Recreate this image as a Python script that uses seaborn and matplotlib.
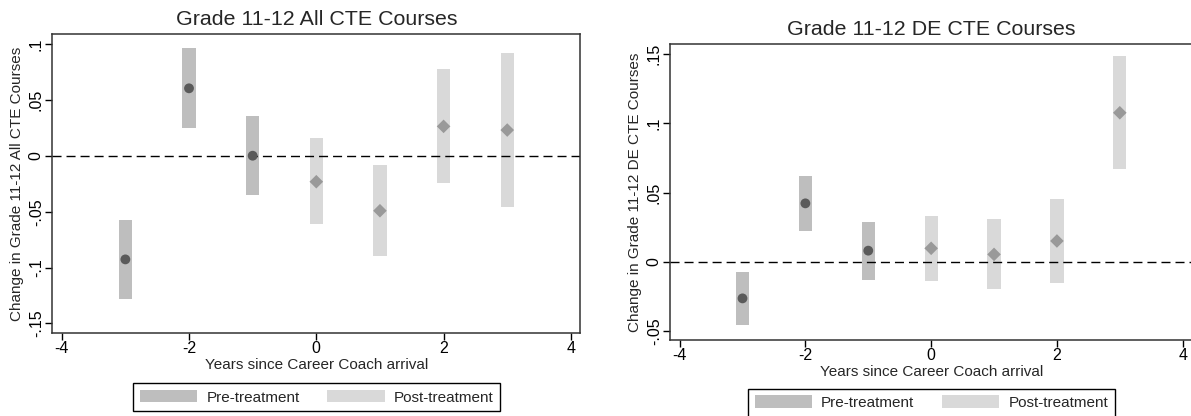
import matplotlib
matplotlib.use("Agg")
import matplotlib.pyplot as plt
import seaborn as sns
import pandas as pd
from matplotlib.patches import Patch

# Event-study estimates with 95% confidence intervals
years = [-3, -2, -1, 0, 1, 2, 3]
period = ["Pre-treatment"] * 3 + ["Post-treatment"] * 4

all_est = [-0.0926, 0.0607, 0.0003, -0.0230, -0.0490, 0.0266, 0.0233]
all_lo = [-0.1280, 0.0254, -0.0350, -0.0610, -0.0899, -0.0239, -0.0454]
all_hi = [-0.0570, 0.0965, 0.0360, 0.0160, -0.0083, 0.0777, 0.0920]

de_est = [-0.0265, 0.0422, 0.0080, 0.0097, 0.0053, 0.0150, 0.1077]
de_lo = [-0.0458, 0.0222, -0.0132, -0.0137, -0.0197, -0.0156, 0.0670]
de_hi = [-0.0072, 0.0622, 0.0289, 0.0330, 0.0306, 0.0453, 0.1485]

x_ticks = [-4, -2, 0, 2, 4]
all_yticks = [-0.15, -0.10, -0.05, 0.0, 0.05, 0.10]
all_yticklabels = ["-.15", "-.1", "-.05", "0", ".05", ".1"]
de_yticks = [-0.05, 0.0, 0.05, 0.10, 0.15]
de_yticklabels = ["-.05", "0", ".05", ".1", ".15"]

titles = ["Grade 11-12 All CTE Courses", "Grade 11-12 DE CTE Courses"]
ylabels = ["Change in Grade 11-12 All CTE Courses", "Change in Grade 11-12 DE CTE Courses"]
xlabel = "Years since Career Coach arrival"

bar_colors = {"Pre-treatment": "#bebebe", "Post-treatment": "#d9d9d9"}
pt_colors = {"Pre-treatment": "#5a5a5a", "Post-treatment": "#999999"}

sns.set_style("white")
plt.rcParams["font.family"] = ["Liberation Sans", "DejaVu Sans"]

W, H = 1191, 416
fig = plt.figure(figsize=(W / 100, H / 100), dpi=100)


def axes_at(x0, y0, x1, y1):
    return fig.add_axes([x0 / W, 1 - y1 / H, (x1 - x0) / W, (y1 - y0) / H])


panels = [
    dict(box=(52.3, 34.3, 580.3, 332.7), est=all_est, lo=all_lo, hi=all_hi,
         ylim=(-0.1583, 0.1091), yt=all_yticks, ytl=all_yticklabels,
         legend_c=(316.9, 397.3)),
    dict(box=(670.3, 44.3, 1192.0, 340.0), est=de_est, lo=de_lo, hi=de_hi,
         ylim=(-0.0566, 0.1572), yt=de_yticks, ytl=de_yticklabels,
         legend_c=(931.4, 402.7)),
]

for i, p in enumerate(panels):
    x0, y0, x1, y1 = p["box"]
    axw, axh = x1 - x0, y1 - y0
    ax = axes_at(*p["box"])
    df = pd.DataFrame({"year": years, "est": p["est"], "lo": p["lo"],
                       "hi": p["hi"], "period": period})

    # confidence-interval bars
    ax.bar(df["year"], df["hi"] - df["lo"], bottom=df["lo"], width=0.21,
           color=[bar_colors[v] for v in df["period"]], linewidth=0, zorder=1)

    # reference line at zero
    ax.axhline(0, color="black", linewidth=1.0, dashes=(6.5, 3.6), zorder=2)

    # point estimates
    sns.scatterplot(data=df, x="year", y="est", hue="period", style="period",
                    size="period", palette=pt_colors,
                    markers={"Pre-treatment": "o", "Post-treatment": "D"},
                    sizes={"Pre-treatment": 50, "Post-treatment": 48},
                    linewidth=0, legend=False, ax=ax, zorder=3)

    ax.set_xlim(-4.148, 4.148)
    ax.set_ylim(*p["ylim"])
    ax.set_xticks(x_ticks)
    ax.set_xticklabels([str(v) for v in x_ticks], fontsize=11.5)
    ax.set_yticks(p["yt"])
    ax.set_yticklabels(p["ytl"], fontsize=11.5, rotation=90, va="center", ha="center")
    ax.tick_params(axis="x", direction="out", length=5, width=1, pad=1,
                   colors="black", bottom=True)
    ax.tick_params(axis="y", direction="out", length=5, width=1, pad=6.5,
                   colors="black", left=True)

    for s in ax.spines.values():
        s.set_visible(True)
        s.set_color("#333333")
        s.set_linewidth(1.1)

    ax.set_title(titles[i], fontsize=15.4, y=1 + 15 / axh, va="center", pad=0)
    ax.set_xlabel(xlabel, fontsize=11, va="center")
    ax.xaxis.set_label_coords(0.5, -32 / axh)
    ax.set_ylabel(ylabels[i], fontsize=11, va="center")
    ax.yaxis.set_label_coords(-35 / axw, 0.5)

    handles = [Patch(facecolor=bar_colors[k], edgecolor="none") for k in bar_colors]
    cx, cy = p["legend_c"]
    leg = ax.legend(handles, list(bar_colors.keys()), loc="center",
                    bbox_to_anchor=(cx / W, 1 - cy / H),
                    bbox_transform=fig.transFigure, ncol=2, frameon=True,
                    fancybox=False, edgecolor="black", framealpha=1,
                    fontsize=11, handlelength=3.75, handleheight=0.86,
                    handletextpad=0.6, columnspacing=1.8, borderpad=0.45)
    leg.get_frame().set_linewidth(1.0)

fig.savefig("out.png", dpi=100)
